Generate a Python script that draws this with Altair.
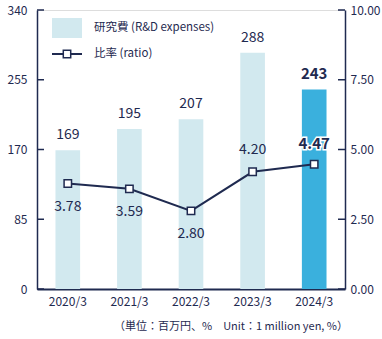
import altair as alt
import pandas as pd

years = ["2020/3", "2021/3", "2022/3", "2023/3", "2024/3"]
rd = [169, 195, 207, 288, 243]
ratio = [3.78, 3.59, 2.80, 4.20, 4.47]
left_ticks = [0, 85, 170, 255, 340]
right_ticks = [0, 2.5, 5, 7.5, 10]

NAVY = "#1f2a50"
FONT = "Noto Sans CJK JP"
LIGHT = "#d2e9ef"
DARK = "#3ab0dd"

df = pd.DataFrame({"year": years, "rd": rd, "ratio": ratio})
df["last"] = df["year"] == years[-1]
df["rd_lbl"] = df["rd"].astype(str)
df["ratio_lbl"] = df["ratio"].map(lambda v: f"{v:.2f}")

base = alt.Chart(df)
xenc = alt.X("year:N", sort=years, title=None,
             scale=alt.Scale(paddingInner=0.6, paddingOuter=0.3),
             axis=alt.Axis(labelAngle=0, ticks=False, labelFont=FONT, labelFontSize=12,
                           labelColor=NAVY, labelPadding=7, domainColor=NAVY, domainWidth=2))

lscale = alt.Scale(domain=[0, 340], nice=False, zero=True)
laxis = alt.Axis(values=left_ticks, ticks=False, grid=False, title=None, labelFont=FONT,
                 labelFontSize=12, labelColor=NAVY, labelPadding=10, domainColor=NAVY,
                 domainWidth=1.5)
rscale = alt.Scale(domain=[0, 10], nice=False, zero=True)
raxis = alt.Axis(values=right_ticks, ticks=False, grid=False, title=None, format=".2f",
                 labelFont=FONT, labelFontSize=12, labelColor=NAVY, labelPadding=5,
                 domainColor=NAVY, domainWidth=1.5, orient="right")

bars = base.mark_bar().encode(
    x=xenc,
    y=alt.Y("rd:Q", scale=lscale, axis=laxis),
    color=alt.condition("datum.last", alt.value(DARK), alt.value(LIGHT)),
)
bar_lbl = base.transform_filter("!datum.last").mark_text(
    dy=-8, baseline="bottom", font=FONT, fontSize=14, color=NAVY).encode(
    x=alt.X("year:N", sort=years), y=alt.Y("rd:Q", scale=lscale, axis=laxis), text="rd_lbl:N")
bar_lbl2 = base.transform_filter("datum.last").mark_text(
    dy=-8, baseline="bottom", font=FONT, fontSize=15, fontWeight="bold", color=NAVY).encode(
    x=alt.X("year:N", sort=years), y=alt.Y("rd:Q", scale=lscale, axis=laxis), text="rd_lbl:N")

ltick_df = pd.DataFrame({"v": left_ticks})
lticks = alt.Chart(ltick_df).mark_rule(color=NAVY, strokeWidth=1.5).encode(
    y=alt.Y("v:Q", scale=lscale, axis=laxis), x=alt.value(0), x2=alt.value(7))

left = alt.layer(bars, bar_lbl, bar_lbl2, lticks)

line = base.mark_line(color=NAVY, strokeWidth=2).encode(
    x=alt.X("year:N", sort=years), y=alt.Y("ratio:Q", scale=rscale, axis=raxis))
pts = base.mark_point(shape="square", filled=True, fill="white", stroke=NAVY,
                      strokeWidth=1.5, size=55, opacity=1).encode(
    x=alt.X("year:N", sort=years), y=alt.Y("ratio:Q", scale=rscale, axis=raxis))
below = base.transform_filter("datum.ratio < 4").mark_text(
    dy=23, font=FONT, fontSize=14, color=NAVY).encode(
    x=alt.X("year:N", sort=years), y=alt.Y("ratio:Q", scale=rscale, axis=raxis), text="ratio_lbl:N")
above = base.transform_filter("datum.ratio >= 4 && !datum.last").mark_text(
    dy=-22, font=FONT, fontSize=14, color=NAVY).encode(
    x=alt.X("year:N", sort=years), y=alt.Y("ratio:Q", scale=rscale, axis=raxis), text="ratio_lbl:N")
above_halo = base.transform_filter("datum.last").mark_text(
    dy=-20, font=FONT, fontSize=15, fontWeight="bold", color="white", stroke="white",
    strokeWidth=3).encode(
    x=alt.X("year:N", sort=years), y=alt.Y("ratio:Q", scale=rscale, axis=raxis), text="ratio_lbl:N")
above2 = base.transform_filter("datum.last").mark_text(
    dy=-20, font=FONT, fontSize=15, fontWeight="bold", color=NAVY).encode(
    x=alt.X("year:N", sort=years), y=alt.Y("ratio:Q", scale=rscale, axis=raxis), text="ratio_lbl:N")

rtick_df = pd.DataFrame({"v": right_ticks})
rticks = alt.Chart(rtick_df).mark_rule(color=NAVY, strokeWidth=1.5).encode(
    y=alt.Y("v:Q", scale=rscale, axis=raxis), x=alt.value(301), x2=alt.value(308))

right = alt.layer(line, pts, below, above, above_halo, above2, rticks)

one = alt.Chart(pd.DataFrame({"a": [0]}))
leg_rect = one.mark_rect(color=LIGHT).encode(
    x=alt.value(15), x2=alt.value(45), y=alt.value(8), y2=alt.value(28))
leg_line = one.mark_rule(color=NAVY, strokeWidth=2).encode(
    x=alt.value(15), x2=alt.value(45), y=alt.value(44))
leg_pt = one.mark_point(shape="square", filled=True, fill="white", stroke=NAVY,
                        strokeWidth=1.5, size=55, opacity=1).encode(
    x=alt.value(30), y=alt.value(44))
leg_t1 = one.mark_text(align="left", baseline="middle", font=FONT, fontSize=11.5,
                       color=NAVY, text="研究費 (R&D expenses)").encode(
    x=alt.value(57), y=alt.value(18))
leg_t2 = one.mark_text(align="left", baseline="middle", font=FONT, fontSize=11.5,
                       color=NAVY, text="比率 (ratio)").encode(
    x=alt.value(57), y=alt.value(44))
unit = one.mark_text(align="right", baseline="middle", font=FONT, fontSize=11,
                     color=NAVY, text="（単位：百万円、%　Unit：1 million yen, %）").encode(
    x=alt.value(311), y=alt.value(317))

legend = alt.layer(leg_rect, leg_line, leg_pt, leg_t1, leg_t2, unit)

chart = alt.layer(left, right, legend).resolve_scale(y="independent").properties(
    width=308, height=279,
    autosize=alt.AutoSizeParams(type="none"),
    padding={"left": 37, "top": 10, "right": 37, "bottom": 50},
).configure_view(stroke=None).configure(background="white")

chart.save("out.html", embed_options={"renderer": "svg", "actions": False})
